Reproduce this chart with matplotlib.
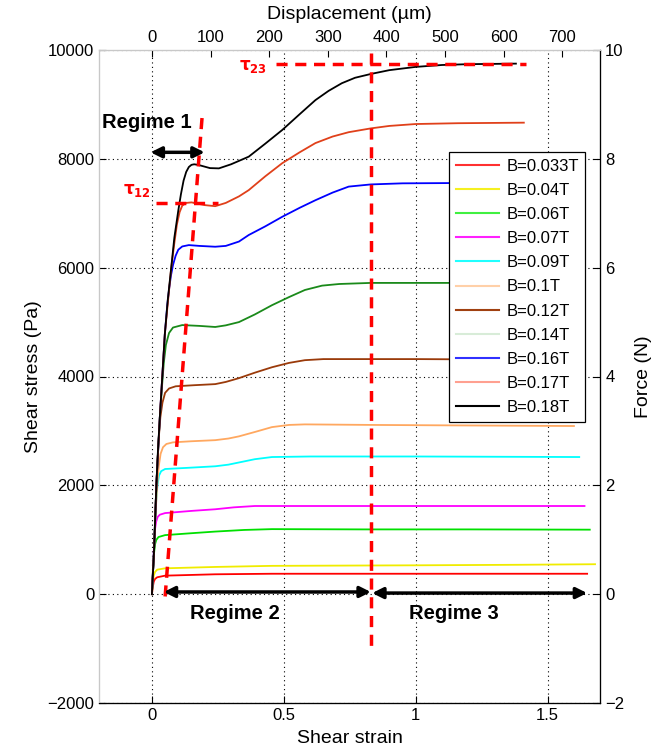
# coding: utf-8

# Imports
import matplotlib
matplotlib.use("Agg")
import matplotlib.pyplot as plt
from matplotlib.lines import Line2D

plt.rcParams['font.family'] = ['Liberation Sans', 'DejaVu Sans']

# Field values and colours (curve colour / legend colour differ in the original)
fields = ["B=0.033T", "B=0.04T", "B=0.06T", "B=0.07T", "B=0.09T", "B=0.1T",
          "B=0.12T", "B=0.14T", "B=0.16T", "B=0.17T", "B=0.18T"]
curveColors = ['#FF0000', '#F0EC00', '#00E000', '#FF00FF', '#00FFFF', '#FFA860',
               '#9A3A0A', '#1A8A1A', '#0000FF', '#E0401A', '#000000']
legendColors = ['#FF3030', '#F5F020', '#40F040', '#FF20FF', '#20FFFF', '#FFD0A8',
                '#A04010', '#D8ECD8', '#3030FF', '#FFA090', '#000000']

# Shear strain / shear stress (Pa)
strain033 = [0, 0.003, 0.007, 0.012, 0.02, 0.05, 0.24, 0.455, 1.0, 1.65]
stress033 = [0, 120, 230, 280, 310, 340, 365, 375, 375, 375]

strain04 = [0, 0.003, 0.007, 0.012, 0.02, 0.05, 0.24, 0.455, 1.0, 1.4, 1.68]
stress04 = [0, 200, 340, 410, 450, 475, 500, 520, 530, 540, 550]

strain06 = [0, 0.004, 0.008, 0.012, 0.017, 0.025, 0.05, 0.15, 0.24, 0.35, 0.455, 0.8, 1.2, 1.66]
stress06 = [0, 450, 750, 920, 1000, 1050, 1085, 1120, 1150, 1180, 1195, 1190, 1190, 1185]

strain07 = [0, 0.004, 0.008, 0.012, 0.016, 0.022, 0.03, 0.05, 0.15, 0.24, 0.31, 0.39, 0.7, 1.2, 1.64]
stress07 = [0, 450, 900, 1200, 1330, 1420, 1460, 1490, 1530, 1560, 1595, 1620, 1620, 1620, 1620]

strain09 = [0, 0.006, 0.011, 0.016, 0.021, 0.027, 0.035, 0.05, 0.13, 0.24, 0.29, 0.33, 0.39,
            0.455, 0.6, 1.0, 1.62]
stress09 = [0, 600, 1200, 1700, 2000, 2180, 2260, 2300, 2320, 2350, 2380, 2420, 2480,
            2520, 2530, 2530, 2520]

strain10 = [0, 0.008, 0.014, 0.02, 0.026, 0.033, 0.042, 0.055, 0.08, 0.15, 0.24, 0.29, 0.33,
            0.39, 0.455, 0.52, 0.58, 0.83, 1.2, 1.6]
stress10 = [0, 790, 1500, 2000, 2350, 2580, 2700, 2760, 2790, 2810, 2830, 2860, 2900,
            2980, 3070, 3110, 3120, 3110, 3100, 3090]

strain12 = [0, 0.008, 0.017, 0.025, 0.032, 0.04, 0.05, 0.065, 0.09, 0.16, 0.24, 0.28, 0.33,
            0.39, 0.455, 0.52, 0.58, 0.65, 0.71, 1.0, 1.4]
stress12 = [0, 790, 2020, 2800, 3250, 3520, 3700, 3780, 3820, 3840, 3860, 3900, 3970,
            4070, 4170, 4250, 4300, 4320, 4320, 4320, 4310]

strain14 = [0, 0.008, 0.017, 0.03, 0.038, 0.045, 0.053, 0.065, 0.08, 0.115, 0.18, 0.24, 0.28,
            0.33, 0.39, 0.455, 0.52, 0.58, 0.645, 0.71, 0.83, 1.13, 1.4]
stress14 = [0, 790, 2020, 3250, 3800, 4250, 4580, 4800, 4900, 4945, 4930, 4910, 4940,
            5000, 5140, 5310, 5460, 5590, 5670, 5700, 5720, 5720, 5720]

strain16 = [0, 0.008, 0.017, 0.03, 0.049, 0.058, 0.065, 0.072, 0.08, 0.09, 0.1, 0.115, 0.14,
            0.18, 0.24, 0.28, 0.33, 0.367, 0.43, 0.494, 0.56, 0.62, 0.685, 0.746, 0.83, 0.95,
            1.13, 1.4]
stress16 = [0, 790, 2020, 3250, 4780, 5300, 5600, 5850, 6050, 6220, 6330, 6390, 6415,
            6400, 6385, 6400, 6480, 6600, 6760, 6935, 7100, 7240, 7380, 7490, 7530, 7550,
            7555, 7560]

strain17 = [0, 0.008, 0.017, 0.03, 0.049, 0.073, 0.085, 0.095, 0.105, 0.115, 0.13, 0.15, 0.17,
            0.2, 0.24, 0.28, 0.33, 0.367, 0.43, 0.494, 0.56, 0.62, 0.685, 0.746, 0.83, 0.9,
            1.0, 1.16, 1.41]
stress17 = [0, 790, 2020, 3250, 4780, 5990, 6450, 6800, 7020, 7140, 7190, 7200, 7180,
            7150, 7130, 7190, 7310, 7425, 7680, 7920, 8120, 8290, 8410, 8490, 8560, 8605,
            8640, 8655, 8665]

strain18 = [0, 0.004, 0.008, 0.012, 0.017, 0.023, 0.03, 0.04, 0.049, 0.06, 0.073, 0.085, 0.1,
            0.11, 0.12, 0.13, 0.14, 0.15, 0.16, 0.175, 0.19, 0.22, 0.254, 0.3, 0.367, 0.43,
            0.494, 0.56, 0.62, 0.67, 0.72, 0.77, 0.83, 0.9, 1.0, 1.1, 1.2, 1.38]
stress18 = [0, 400, 790, 1350, 2020, 2650, 3250, 4050, 4780, 5400, 5990, 6550, 7050,
            7350, 7600, 7760, 7850, 7890, 7900, 7890, 7870, 7830, 7825, 7900, 8040, 8280,
            8530, 8820, 9080, 9250, 9390, 9490, 9560, 9630, 9690, 9725, 9740, 9750]

allStrain = [strain033, strain04, strain06, strain07, strain09, strain10,
             strain12, strain14, strain16, strain17, strain18]
allStress = [stress033, stress04, stress06, stress07, stress09, stress10,
             stress12, stress14, stress16, stress17, stress18]

# Gap of the shear cell: displacement (um) = strain * gap
gapMicron = 450.0

# Plot
fig = plt.figure(figsize=(6.7, 7.5), dpi=100, facecolor='white')
ax = fig.add_axes([0.148, 0.0627, 0.748, 0.8706])

for x, y, c in zip(allStrain, allStress, curveColors):
    ax.plot(x, y, color=c, lw=1.3, zorder=3)

ax.set_xlim(-0.2, 1.7)
ax.set_ylim(-2000, 10000)
ax.set_xticks([0, 0.5, 1, 1.5])
ax.set_xticklabels(["0", "0.5", "1", "1.5"])
ax.set_yticks(range(-2000, 10001, 2000))
ax.grid(True, color='black', linestyle=(0, (1, 3)), lw=0.8)
ax.tick_params(direction='in', labelsize=12, length=5)
ax.set_xlabel("Shear strain", fontsize=14, labelpad=5)
ax.set_ylabel("Shear stress (Pa)", fontsize=14, labelpad=4)
ax.spines['left'].set_color('#c8c8c8')
ax.spines['top'].set_color('#c8c8c8')

# Red dashed construction lines
dash = dict(color='#FF0000', lw=2.5, linestyle=(0, (3.2, 2.2)), zorder=4)
ax.plot([0.83, 0.83], [9950, -1050], **dash)
ax.plot([0.19, 0.05], [8750, -50], **dash)
ax.plot([0.015, 0.25], [7190, 7190], **dash)
ax.plot([0.47, 1.42], [9750, 9750], **dash)
ax.text(-0.005, 7420, r"$\mathbf{\tau_{12}}$", color='#FF0000', fontsize=12, ha='right', va='center')
ax.text(0.435, 9690, r"$\mathbf{\tau_{23}}$", color='#FF0000', fontsize=12, ha='right', va='center')

# Regime arrows
arrow = dict(arrowstyle='<|-|>', lw=2.5, color='black', mutation_scale=16, shrinkA=0, shrinkB=0)
ax.annotate("", xy=(-0.005, 8120), xytext=(0.2, 8120), arrowprops=arrow, zorder=5)
ax.annotate("", xy=(0.045, 40), xytext=(0.83, 40), arrowprops=arrow, zorder=5)
ax.annotate("", xy=(0.835, 20), xytext=(1.65, 20), arrowprops=arrow, zorder=5)
ax.text(-0.02, 8660, "Regime 1", fontsize=14.5, fontweight='bold', ha='center', va='center')
ax.text(0.315, -360, "Regime 2", fontsize=14.5, fontweight='bold', ha='center', va='center')
ax.text(1.145, -360, "Regime 3", fontsize=14.5, fontweight='bold', ha='center', va='center')

# Legend with proxy handles
handles = [Line2D([], [], color=c, lw=1.5) for c in legendColors]
leg = ax.legend(handles, fields, loc='upper left', bbox_to_anchor=(0.699, 0.844),
                fontsize=12, labelspacing=0.55, handlelength=2.6, handletextpad=0.4,
                borderpad=0.4, fancybox=False, framealpha=1.0, borderaxespad=0)
leg.get_frame().set_edgecolor('black')
leg.get_frame().set_linewidth(0.9)
leg.set_zorder(6)

# Top axis: displacement
axTop = ax.twiny()
axTop.set_xlim(-0.2 * gapMicron, 1.7 * gapMicron)
axTop.set_xticks(range(0, 701, 100))
axTop.tick_params(direction='in', labelsize=12, length=5)
axTop.set_xlabel("Displacement (\u00b5m)", fontsize=14, labelpad=8)

# Right axis: force
axRight = ax.twinx()
axRight.set_ylim(-2, 10)
axRight.set_yticks(range(-2, 11, 2))
axRight.tick_params(direction='in', labelsize=12, length=5)
axRight.set_ylabel("Force (N)", fontsize=14, labelpad=8)
for a in (axTop, axRight):
    a.spines['left'].set_color('#c8c8c8')
    a.spines['top'].set_color('#c8c8c8')

fig.savefig("out.png", dpi=100, facecolor='white')
